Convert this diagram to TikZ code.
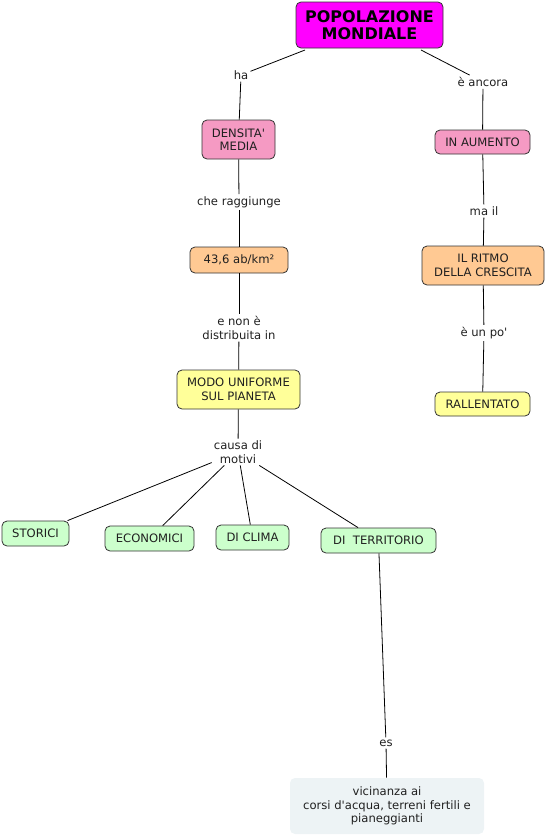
\documentclass[tikz,border=0pt]{standalone}
\usepackage{fontspec}
\setmainfont{DejaVu Sans}
\definecolor{cmag}{HTML}{FF00FF}
\definecolor{cpink}{HTML}{F59AC3}
\definecolor{cpeach}{HTML}{FFC993}
\definecolor{cyell}{HTML}{FFFF99}
\definecolor{cgreen}{HTML}{CCFFCC}
\definecolor{cpale}{HTML}{EDF3F5}
\definecolor{cborder}{HTML}{333333}
\definecolor{ctext}{HTML}{202020}
\begin{document}
\begin{tikzpicture}[x=1pt,y=-1pt,
  box/.style={draw=cborder,line width=0.8pt,rounded corners=5pt,align=center,inner sep=0pt,text=ctext,font=\fontsize{11.6}{13.5}\selectfont},
  lab/.style={align=center,inner sep=2pt,fill=white,text=ctext,font=\fontsize{11.6}{13.5}\selectfont},
  conn/.style={draw=black,line width=0.8pt}]
\useasboundingbox (0,0) rectangle (545,836);
% nodes
\node[box,fill=cmag,minimum width=147pt,minimum height=46pt,text=black,font=\fontsize{16}{17.5}\selectfont\bfseries] (pop) at (369.5,25) {POPOLAZIONE\\MONDIALE};
\node[lab] (ha) at (241,75) {ha};
\node[box,fill=cpink,minimum width=73pt,minimum height=39pt] (dens) at (238.5,139.5) {DENSITA\textquotesingle\\MEDIA};
\node[lab] (cr) at (239,202) {che raggiunge};
\node[box,fill=cpeach,minimum width=98pt,minimum height=26pt] (num) at (239,260) {43,6 ab/km²};
\node[lab] (enon) at (239,328) {e non è\\distribuita in};
\node[box,fill=cyell,minimum width=123pt,minimum height=39pt] (modo) at (238.5,389.5) {MODO UNIFORME\\SUL PIANETA};
\node[lab] (causa) at (238,452) {causa di\\motivi};
\node[box,fill=cgreen,minimum width=67pt,minimum height=25pt] (stor) at (35.5,533.5) {STORICI};
\node[box,fill=cgreen,minimum width=89pt,minimum height=25pt] (econ) at (149.5,538.5) {ECONOMICI};
\node[box,fill=cgreen,minimum width=73pt,minimum height=25pt] (clima) at (252.5,537.5) {DI CLIMA};
\node[box,fill=cgreen,minimum width=115pt,minimum height=25pt] (terr) at (378.5,540.5) {DI~~TERRITORIO};
\node[lab] (es) at (386,743) {es};
\node[box,draw=none,fill=cpale,minimum width=194pt,minimum height=56pt] (vic) at (387,806) {vicinanza ai\\corsi d\textquotesingle acqua, terreni fertili e\\pianeggianti};
\node[lab] (anc) at (483,82) {è ancora};
\node[box,fill=cpink,minimum width=95pt,minimum height=24pt] (aum) at (482.5,142) {IN AUMENTO};
\node[lab] (mail) at (484,211) {ma il};
\node[box,fill=cpeach,minimum width=122pt,minimum height=39pt] (ritmo) at (483,265.5) {IL RITMO\\DELLA CRESCITA};
\node[lab] (unpo) at (484,333) {è un po\textquotesingle};
\node[box,fill=cyell,minimum width=95pt,minimum height=24pt] (rall) at (482.5,404) {RALLENTATO};
% connectors
\coordinate (p1) at (305,50);
\coordinate (p2) at (421,50);
\draw[conn] (p1) -- (ha);
\draw[conn] (ha) -- (dens);
\draw[conn] (dens) -- (cr);
\draw[conn] (cr) -- (num);
\draw[conn] (num) -- (enon);
\draw[conn] (enon) -- (modo);
\draw[conn] (modo) -- (causa);
\draw[conn] (causa) -- (stor);
\draw[conn] (causa) -- (econ);
\draw[conn] (causa) -- (clima);
\draw[conn] (causa) -- (terr);
\draw[conn] (terr) -- (es);
\draw[conn] (es) -- (vic);
\draw[conn] (p2) -- (anc);
\draw[conn] (anc) -- (aum);
\draw[conn] (aum) -- (mail);
\draw[conn] (mail) -- (ritmo);
\draw[conn] (ritmo) -- (unpo);
\draw[conn] (unpo) -- (rall);
\end{tikzpicture}
\end{document}
